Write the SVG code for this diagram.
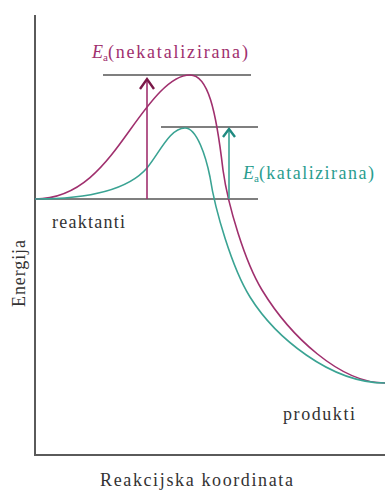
<svg xmlns="http://www.w3.org/2000/svg" width="385" height="491" viewBox="0 0 385 491">
<style>
.ax{stroke:#5a5a5a;stroke-width:2;fill:none}
.lvl{stroke:#555;stroke-width:1.6;fill:none}
.mag{stroke:#a0306e;stroke-width:1.6;fill:none}
.teal{stroke:#3aa393;stroke-width:1.6;fill:none}
text{font-family:"Liberation Serif","DejaVu Serif","Times New Roman",serif;font-size:18px;fill:#333}
</style>
<rect width="385" height="491" fill="#fff"/>
<g id="axes">
<path class="ax" d="M35,15 V455 H385"/>
</g>
<g id="levels">
<line class="lvl" x1="35" y1="199" x2="258" y2="199"/>
<line class="lvl" x1="103" y1="75" x2="251" y2="75"/>
<line class="lvl" x1="161" y1="127" x2="258" y2="127"/>
</g>
<g id="curves">
<path class="mag" d="M35,199 C80,199 105,165 130,130 C150,102 170,75 190,75 C208,75 216,110 223,170 C228,206 245,262 262,290 C290,336 340,383 385,383"/>
<path class="teal" d="M35,199 C90,199 128,190 147,168 C160,152 170,128 185,128 C197,128 206,157 210,177 C215,210 232,268 250,297 C275,337 330,383 385,383"/>
</g>
<g id="arrows">
<line x1="147" y1="199" x2="147" y2="79" stroke="#a0306e" stroke-width="1.6"/>
<path d="M140,89 L147,79 L154,89" fill="none" stroke="#7a1848" stroke-width="2.4"/>
<line x1="229" y1="199" x2="229" y2="129" stroke="#3aa393" stroke-width="1.6"/>
<path d="M223,137 L229,129 L235,137" fill="none" stroke="#1f8a80" stroke-width="2.4"/>
</g>
<g id="labels">
<text x="92" y="58" style="fill:#a0306e"><tspan font-style="italic">E</tspan><tspan font-size="11" dy="3">a</tspan><tspan dy="-3" textLength="140" lengthAdjust="spacing">(nekatalizirana)</tspan></text>
<text x="243" y="179" style="fill:#2a9d8f"><tspan font-style="italic">E</tspan><tspan font-size="11" dy="3">a</tspan><tspan dy="-3" textLength="115" lengthAdjust="spacing">(katalizirana)</tspan></text>
<text x="52" y="228" textLength="73" lengthAdjust="spacing">reaktanti</text>
<text x="283" y="420" textLength="72" lengthAdjust="spacing">produkti</text>
<text x="100" y="486" textLength="193" lengthAdjust="spacing">Reakcijska koordinata</text>
<text x="0" y="0" textLength="67" lengthAdjust="spacing" transform="translate(25,307) rotate(-90)">Energija</text>
</g>
</svg>
